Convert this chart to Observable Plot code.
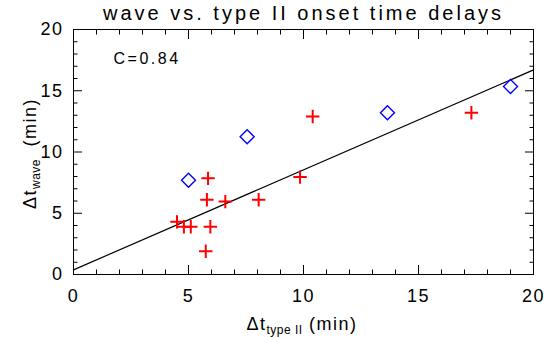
<!DOCTYPE html>
<html><head><meta charset="utf-8">
<script src="https://cdn.jsdelivr.net/npm/d3@7"></script>
<script src="https://cdn.jsdelivr.net/npm/@observablehq/plot@0.6"></script>
<style>
body{margin:0;background:#fff}
svg{display:block}
</style>
</head><body><div id="chart"></div>
<script>
// ---- data ----
const plusTypeII = [4.5, 4.8, 5.1, 5.75, 5.85, 5.8, 5.95, 6.6, 8.05, 9.85, 10.4, 17.3];
const plusWave   = [4.3, 3.9, 3.9, 1.9, 7.85, 6.1, 3.9, 5.95, 6.1, 7.95, 12.9, 13.2];
const diamondTypeII = [5.0, 7.55, 13.65, 19.0];
const diamondWave   = [7.7, 11.25, 13.2, 15.35];
const fitIntercept = 0.38;
const fitSlope = 0.816;
const fitXRange = [0, 20];
const majorTicks = [0, 5, 10, 15, 20];
const minorTicks = [1, 2, 3, 4, 6, 7, 8, 9, 11, 12, 13, 14, 16, 17, 18, 19];
const titleText = "wave vs. type II onset time delays";
const corrText = "C=0.84";
const xLabelParts = ["\u0394t", "type II", " (min)"];
const yLabelParts = ["\u0394t", "wave", " (min)"];

const plusRows = plusTypeII.map((x, i) => ({x, y: plusWave[i]}));
const diamondRows = diamondTypeII.map((x, i) => ({x, y: diamondWave[i]}));
const fitRows = fitXRange.map(x => ({x, y: fitIntercept + fitSlope * x}));

const plusSymbol = {draw(ctx, size) {
  const r = Math.sqrt(size / Math.PI);
  ctx.moveTo(-r, 0); ctx.lineTo(r, 0);
  ctx.moveTo(0, -r); ctx.lineTo(0, r);
}};
const diamondSymbol = {draw(ctx, size) {
  const r = Math.sqrt(size / Math.PI);
  ctx.moveTo(0, -r); ctx.lineTo(r, 0); ctx.lineTo(0, r); ctx.lineTo(-r, 0); ctx.closePath();
}};

const FONT = "'Liberation Sans', Arial, Helvetica, sans-serif";
const noText = () => "";

const plot = Plot.plot({
  width: 544, height: 338,
  marginLeft: 73, marginRight: 11, marginTop: 29, marginBottom: 64,
  x: {domain: [0, 20], label: null},
  y: {domain: [0, 20], label: null},
  style: {fontFamily: FONT, background: "white", color: "black"},
  marks: [
    Plot.frame({stroke: "black", strokeWidth: 1}),
    // inward ticks on all four sides
    Plot.axisX(majorTicks, {anchor: "bottom", tickSize: -9, tickFormat: noText, label: null}),
    Plot.axisX(minorTicks, {anchor: "bottom", tickSize: -4.5, tickFormat: noText, label: null}),
    Plot.axisX(majorTicks, {anchor: "top", tickSize: -9, tickFormat: noText, label: null}),
    Plot.axisX(minorTicks, {anchor: "top", tickSize: -4.5, tickFormat: noText, label: null}),
    Plot.axisY(majorTicks, {anchor: "left", tickSize: -9, tickFormat: noText, label: null}),
    Plot.axisY(minorTicks, {anchor: "left", tickSize: -4.5, tickFormat: noText, label: null}),
    Plot.axisY(majorTicks, {anchor: "right", tickSize: -9, tickFormat: noText, label: null}),
    Plot.axisY(minorTicks, {anchor: "right", tickSize: -4.5, tickFormat: noText, label: null}),
    // tick labels
    Plot.axisX(majorTicks, {anchor: "bottom", tickSize: 0, tickPadding: 15, fontSize: 18, label: null, tickFormat: d => String(d)}),
    Plot.axisY(majorTicks, {anchor: "left", tickSize: 0, tickPadding: 10, fontSize: 18, label: null, tickFormat: d => String(d)}),
    // fit line
    Plot.line(fitRows, {x: "x", y: "y", stroke: "black", strokeWidth: 1.2}),
    // points
    Plot.dot(plusRows, {x: "x", y: "y", symbol: plusSymbol, r: 6.7, stroke: "#ff0000", strokeWidth: 2, fill: "none"}),
    Plot.dot(diamondRows, {x: "x", y: "y", symbol: diamondSymbol, r: 7, stroke: "#0000ff", strokeWidth: 1.4, fill: "none"}),
    // texts
    Plot.text([titleText], {frameAnchor: "top", lineAnchor: "bottom", dy: -10, fontSize: 20, fill: "black", className: "title-txt"}),
    Plot.text([corrText], {frameAnchor: "top-left", textAnchor: "start", lineAnchor: "bottom", dx: 40, dy: 34, fontSize: 16, fill: "black", className: "corr-txt"})
  ]
});

const svg = d3.select(plot);
svg.selectAll("text").style("letter-spacing", "1.5px");
svg.selectAll(".title-txt text").style("letter-spacing", "3px");
svg.selectAll(".corr-txt text").style("letter-spacing", "2.5px");

const xs = plot.scale("x"), ys = plot.scale("y");
const xMid = (xs.range[0] + xs.range[1]) / 2;
const yMid = (ys.range[0] + ys.range[1]) / 2;

function addLabel(parts, transform, gap) {
  const t = svg.append("text")
    .attr("transform", transform)
    .attr("text-anchor", "middle")
    .attr("font-family", FONT)
    .attr("font-size", 18)
    .attr("fill", "black")
    .style("letter-spacing", "1.5px");
  t.append("tspan").text(parts[0]);
  t.append("tspan").attr("font-size", 12).attr("dy", 4).style("letter-spacing", "0.5px").text(parts[1]);
  t.append("tspan").attr("dy", -4).attr("dx", gap).text(parts[2]);
}
addLabel(xLabelParts, `translate(${xMid - 1},330)`, 0);
addLabel(yLabelParts, `translate(36,${yMid + 2}) rotate(-90)`, 6);

document.getElementById("chart").appendChild(plot);
</script>
</body></html>
